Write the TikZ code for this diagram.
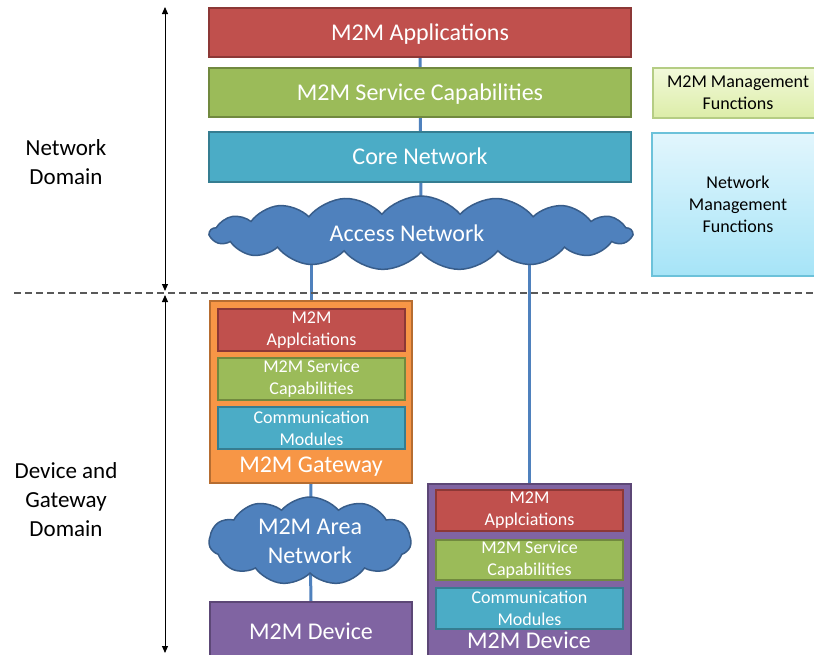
\documentclass[tikz,border=0pt]{standalone}
\usepackage{fontspec}
\setmainfont{Carlito}
\usetikzlibrary{shapes.symbols,backgrounds,arrows.meta}
\definecolor{appred}{HTML}{C0504D}
\definecolor{appredd}{HTML}{8C3836}
\definecolor{svcgreen}{HTML}{9BBB59}
\definecolor{svcgreend}{HTML}{71893F}
\definecolor{coreteal}{HTML}{4BACC6}
\definecolor{coretealdd}{HTML}{357D91}
\definecolor{cloudblue}{HTML}{4F81BD}
\definecolor{cloudblued}{HTML}{385D8A}
\definecolor{gworange}{HTML}{F79646}
\definecolor{gworanged}{HTML}{B66D31}
\definecolor{devpurple}{HTML}{8064A2}
\definecolor{devpurpled}{HTML}{5C4776}
\definecolor{mgtop}{HTML}{F2F9DA}
\definecolor{mgbot}{HTML}{DCEDA8}
\definecolor{mgborder}{HTML}{B5CD84}
\definecolor{nmtop}{HTML}{E2F6FD}
\definecolor{nmbot}{HTML}{A6E4F7}
\definecolor{nmborder}{HTML}{6CC2DA}
\begin{document}
\begin{tikzpicture}[x=1pt,y=-1pt,
  box/.style={draw, line width=2pt, inner sep=0pt, text=white, align=center},
  bigbox/.style={box, minimum width=422pt, minimum height=49pt, font=\fontsize{24}{28}\selectfont, text height=15pt, text depth=0pt},
  innerbox/.style={box, minimum width=187pt, minimum height=42pt, font=\fontsize{18}{22}\selectfont},
  redbox/.style={fill=appred, draw=appredd},
  greenbox/.style={fill=svcgreen, draw=svcgreend},
  tealbox/.style={fill=coreteal, draw=coretealdd},
  cloudnode/.style={shape=cloud, cloud ignores aspect, fill=cloudblue, draw=cloudblued, line width=1.5pt, text=white, align=center, inner sep=0pt},
  link/.style={draw=cloudblue, line width=3pt},
  domlabel/.style={align=center, font=\fontsize{23}{29}\selectfont},
  mgmt/.style={draw, line width=1.2pt, align=center, font=\fontsize{18}{22}\selectfont},
  devlabel/.style={text=white, font=\fontsize{24}{28}\selectfont, text height=15pt, text depth=0pt},
  domarrow/.style={line width=1pt, {Triangle[length=7pt,width=6pt]}-{Triangle[length=7pt,width=6pt]}}
]
\clip (0,0) rectangle (814,654);

% network domain
\node[bigbox, redbox] (apps) at (420,32.5) {M2M Applications};
\node[bigbox, greenbox] (svc) at (420,92.5) {M2M Service Capabilities};
\node[bigbox, tealbox, minimum height=50pt] (core) at (420,157) {Core Network};
\node[cloudnode, cloud puffs=17, cloud puff arc=100, minimum width=422pt, minimum height=74pt, font=\fontsize{24}{28}\selectfont] (access) at (421,233) {\hspace*{-28pt}Access Network};

\node[mgmt, draw=mgborder, top color=mgtop, bottom color=mgbot, minimum width=170pt, minimum height=50pt] (m2mmgmt) at (738,93) {M2M Management\\Functions};
\node[mgmt, draw=nmborder, top color=nmtop, bottom color=nmbot, minimum width=172pt, minimum height=143pt] (netmgmt) at (738,204.5) {Network\\Management\\Functions};

% gateway
\node[box, fill=gworange, draw=gworanged, minimum width=202pt, minimum height=182pt] (gw) at (311,392) {};
\node[innerbox, redbox] (gwapp) at (311.5,330) {M2M\\Applciations};
\node[innerbox, greenbox] (gwsvc) at (311.5,379) {M2M Service\\Capabilities};
\node[innerbox, tealbox] (gwcom) at (311.5,428) {Communication\\Modules};
\node[devlabel] (gwlabel) at (311,465) {M2M Gateway};

\node[cloudnode, cloud puffs=11, cloud puff arc=100, minimum width=202pt, minimum height=88pt, font=\fontsize{24}{29}\selectfont] (area) at (310,541) {M2M Area\\Network};

\node[box, fill=devpurple, draw=devpurpled, minimum width=202pt, minimum height=58pt, font=\fontsize{24}{28}\selectfont] (ldev) at (311,631) {M2M Device};

% right device
\node[box, fill=devpurple, draw=devpurpled, minimum width=203pt, minimum height=180pt] (rdev) at (529.5,574) {};
\node[innerbox, redbox, minimum height=41pt] (rdapp) at (529.5,510.5) {M2M\\Applciations};
\node[innerbox, greenbox, minimum height=40pt] (rdsvc) at (529.5,560) {M2M Service\\Capabilities};
\node[innerbox, tealbox, minimum height=41pt] (rdcom) at (529.5,608.5) {Communication\\Modules};
\node[devlabel] (rdlabel) at (529,641) {M2M Device};

% links
\begin{scope}[on background layer]
\fill[white] (0,0) rectangle (814,654);
\draw[link] (apps.center) -- (access.center);
\draw[link] (gw.north) -- (gw.north |- access.center);
\draw[link] (rdev.north) -- (rdev.north |- access.center);
\draw[link] (gw.south) -- (area.center);
\draw[link] (area.center) -- (ldev.north);
\end{scope}

% domains
\coordinate (ntop) at (165,7);
\coordinate (nbot) at (165,291);
\coordinate (dtop) at (165,295);
\coordinate (dbot) at (165,653);
\draw[domarrow] (nbot) -- (ntop);
\draw[domarrow] (dtop) -- (dbot);
\coordinate (dl) at (14,293);
\coordinate (dr) at (814,293);
\draw[gray!70!black, line width=1.2pt, dash pattern=on 7pt off 4pt] (dl) -- (dr);

\node[domlabel] (netdom) at (66,162) {Network\\Domain};
\node[domlabel] (devdom) at (66,500) {Device and\\Gateway\\Domain};
\end{tikzpicture}
\end{document}
